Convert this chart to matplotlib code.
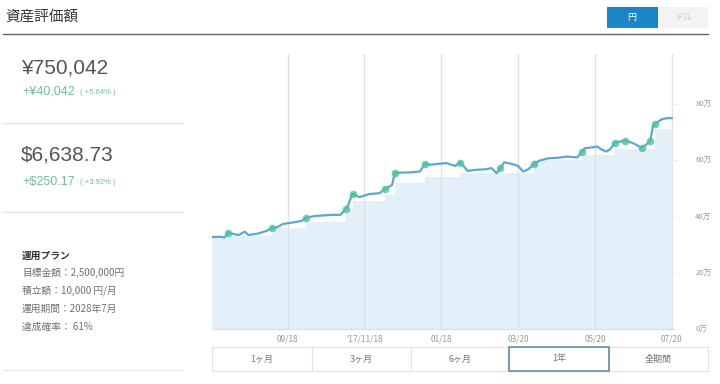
import numpy as np
import matplotlib
matplotlib.use('Agg')
from matplotlib import pyplot as plt
from matplotlib.patches import Rectangle

plt.rcParams['font.family'] = ['Noto Sans CJK JP', 'DejaVu Sans']

# 評価額 (万円) / 2017-07-20 からの日数
days = [0, 6, 10, 13, 17, 21, 26, 29, 37, 44, 48, 52, 56, 63, 71, 75, 82, 96,
        102, 106, 108, 111, 112, 117, 125, 133, 137, 143, 145, 149, 157, 165,
        169, 173, 179, 186, 193, 197, 199, 203, 209, 217, 222, 226, 229, 232,
        239, 243, 247, 251, 256, 260, 267, 275, 282, 290, 294, 296, 302, 306,
        309, 313, 316, 320, 328, 333, 337, 341, 345, 348, 350, 352, 357, 362, 365]
value = [32.7, 32.8, 32.6, 34.3, 33.8, 33.4, 34.6, 33.4, 34.0, 35.0, 36.0, 36.2,
         37.3, 37.8, 38.4, 39.6, 40.2, 40.6, 40.6, 42.6, 43.8, 47.7, 48.0, 46.9,
         48.0, 48.3, 49.7, 51.2, 55.4, 55.6, 55.7, 56.0, 58.7, 58.4, 58.7, 59.0,
         58.0, 59.2, 58.4, 56.2, 56.6, 56.8, 57.2, 55.4, 57.2, 59.3, 58.6, 58.0,
         56.0, 56.8, 58.7, 59.9, 60.7, 60.9, 61.3, 61.0, 63.1, 64.3, 64.6, 64.9,
         63.9, 63.1, 63.9, 66.3, 67.0, 66.3, 65.5, 64.3, 65.7, 66.9, 72.0, 73.0,
         74.6, 75.0, 75.0]

# 入金日
deposit_days = [13, 48, 75, 106, 112, 137, 145, 169, 197, 229, 256, 294, 320,
                328, 341, 348, 352]

# 投資元本 (万円)
invest_days = [0, 13, 48, 75, 106, 112, 137, 145, 169, 197, 256, 294, 320, 352, 365]
invest_value = [32.5, 33.0, 35.8, 37.9, 42.5, 45.5, 47.7, 52.0, 54.0, 55.6,
                60.0, 62.0, 64.0, 71.0, 71.0]

tick_days = [60, 121, 182, 243, 304, 365]
tick_labels = ['09/18', "'17/11/18", '01/18', '03/20', '05/20', '07/20']
y_ticks = [0, 20, 40, 60, 80]

period_labels = ['1ヶ月', '3ヶ月', '6ヶ月', '1年', '全期間']
plan_lines = ['目標金額：2,500,000円', '積立額：10,000 円/月', '運用期間：2028年7月', '達成確率： 61%']

W, H = 720, 384
fig = plt.figure(figsize=(W / 100, H / 100), dpi=100)
fig.patch.set_facecolor('white')

# 背景レイアウト用 (ピクセル座標)
bg = fig.add_axes([0, 0, 1, 1])
bg.set_xlim(0, W)
bg.set_ylim(H, 0)
bg.axis('off')

num_font = ['Liberation Sans', 'DejaVu Sans']

bg.text(5, 17, '資産評価額', fontsize=10.5, color='#333333', va='center', ha='left')
bg.plot([3, 708], [34, 34], color='#666666', lw=1)
bg.add_patch(Rectangle((607, 7), 51, 21, facecolor='#1a86c8', edgecolor='none'))
bg.add_patch(Rectangle((658, 7), 50, 21, facecolor='#f3f3f3', edgecolor='none'))
bg.text(632, 17.5, '円', fontsize=6.5, color='white', ha='center', va='center')
bg.text(683, 17.5, 'ドル', fontsize=6.5, color='#c8c8c8', ha='center', va='center')

# 左パネル
bg.text(21, 68, '¥750,042', fontsize=15, color='#555555', va='center', ha='left',
        family=num_font)
bg.text(22, 92, '+¥40,042', fontsize=9, color='#6cbf96', va='center', ha='left',
        family=num_font)
bg.text(80, 92.5, '( +5.64% )', fontsize=5.5, color='#6cbf96', va='center', ha='left',
        family=num_font)
bg.plot([3, 183], [123, 123], color='#e6e6e6', lw=1)
bg.text(21, 155, '$6,638.73', fontsize=15, color='#555555', va='center', ha='left',
        family=num_font)
bg.text(22, 182, '+$250.17', fontsize=9, color='#6cbf96', va='center', ha='left',
        family=num_font)
bg.text(80, 182.5, '( +3.92% )', fontsize=5.5, color='#6cbf96', va='center', ha='left',
        family=num_font)
bg.plot([3, 183], [212, 212], color='#e6e6e6', lw=1)

bg.text(22, 256, '運用プラン', fontsize=7, color='#333333', fontweight='bold', va='center')
for i, s in enumerate(plan_lines):
    bg.text(22, 273 + i * 18, s, fontsize=7, color='#707070', va='center')
bg.plot([3, 183], [370, 370], color='#e6e6e6', lw=1)

# 期間ボタン
edges = [212, 312, 411, 509, 609, 708]
for i, lab in enumerate(period_labels):
    x0, x1 = edges[i], edges[i + 1]
    bg.add_patch(Rectangle((x0, 347), x1 - x0, 24, facecolor='white',
                           edgecolor='#e2e2e2', lw=0.8))
    bg.text((x0 + x1) / 2, 359, lab, fontsize=6.5, color='#777777', ha='center', va='center')
bg.add_patch(Rectangle((edges[3], 347), edges[4] - edges[3], 24, facecolor='none',
                       edgecolor='#5b8ea6', lw=1.2, zorder=5))

# チャート
ax = fig.add_axes([212 / W, 1 - 329 / H, (673 - 212) / W, (329 - 54) / H])
ax.set_facecolor('none')
ax.fill_between(invest_days, invest_value, step='post', color='#e3eff9', lw=0, zorder=1)
for d in tick_days:
    ax.axvline(d, color='#dde2e7', lw=1, zorder=2)
ax.plot(days, value, color='#5aa8d6', lw=1.6, zorder=3)
ax.plot(deposit_days, np.interp(deposit_days, days, value), 'o', color='#4cc29a',
        alpha=0.8, markersize=5.5, mec='none', zorder=4)

ax.set_xlim(0, 366)
ax.set_ylim(0, 97.8)
ax.set_xticks(tick_days)
ax.set_xticklabels(tick_labels)
ax.set_yticks(y_ticks)
ax.set_yticklabels([f'{v}万' for v in y_ticks])
ax.yaxis.tick_right()
ax.tick_params(axis='x', length=0, pad=4, labelsize=6, labelcolor='#999999')
ax.tick_params(axis='y', length=2, width=0.6, color='#e0e0e0', pad=14,
               labelsize=5.5, labelcolor='#999999')
for k in ['top', 'left', 'right']:
    ax.spines[k].set_visible(False)
ax.spines['bottom'].set_color('#d8dde2')

plt.savefig('out.png', dpi=100)
